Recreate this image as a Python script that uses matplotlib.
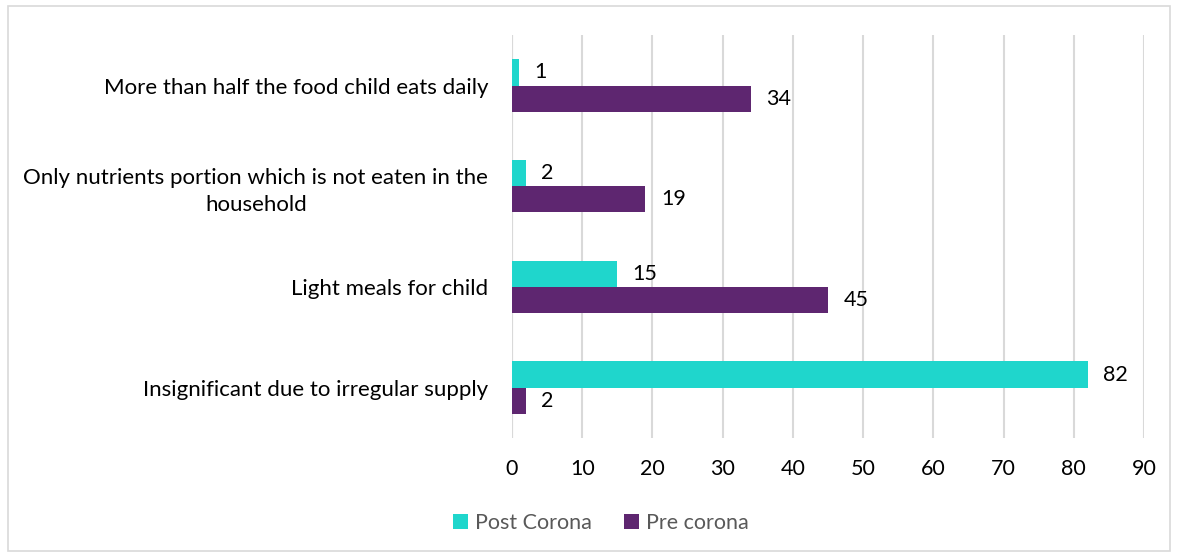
import matplotlib.pyplot as plt
from matplotlib.patches import Rectangle
import numpy as np

plt.rcParams['font.family'] = ['Lato', 'DejaVu Sans']

categories = ["More than half the food child eats daily",
              "Only nutrients portion which is not eaten in the\nhousehold",
              "Light meals for child",
              "Insignificant due to irregular supply"]
post_corona = [1, 2, 15, 82]
pre_corona = [34, 19, 45, 2]
xticks = [0, 10, 20, 30, 40, 50, 60, 70, 80, 90]

cyan = "#1FD6CC"
purple = "#5E2670"

fig = plt.figure(figsize=(11.78, 5.58), dpi=100)
ax = fig.add_axes([0.4346, 0.215, 0.5365, 0.722])

y = np.arange(len(categories))
h = 0.26
b1 = ax.barh(y - h / 2, post_corona, height=h, color=cyan, label="Post Corona")
b2 = ax.barh(y + h / 2, pre_corona, height=h, color=purple, label="Pre corona")

for bars, vals in ((b1, post_corona), (b2, pre_corona)):
    for bar, v in zip(bars, vals):
        ax.text(bar.get_width() + 2.2, bar.get_y() + bar.get_height() / 2, str(v),
                va="center", ha="left", fontsize=15.5, color="black")

ax.set_ylim(len(categories) - 0.5, -0.5)
ax.set_xlim(0, 90)
ax.set_xticks(xticks)
ax.set_yticks(y)
ax.set_yticklabels(categories, fontsize=16, multialignment="center", linespacing=1.4)
ax.tick_params(axis="x", labelsize=15.5, length=0, pad=15)
ax.tick_params(axis="y", length=0, pad=17)
ax.grid(axis="x", color="#d9d9d9", linewidth=1.5)
ax.set_axisbelow(True)
for s in ax.spines.values():
    s.set_visible(False)
ax.axvline(0, color="#d9d9d9", linewidth=1.5, zorder=0)

leg = fig.legend(loc="center", bbox_to_anchor=(0.51, 0.063), ncol=2, frameon=False,
                 fontsize=15.5, handlelength=0.7, handleheight=0.7, columnspacing=1.5,
                 handletextpad=0.3)
for t in leg.get_texts():
    t.set_color("#595959")

fig.patches.append(Rectangle((0.007, 0.012), 0.986, 0.978, transform=fig.transFigure,
                             fill=False, edgecolor="#d9d9d9", linewidth=1.2))

fig.savefig("out.png", dpi=100)
